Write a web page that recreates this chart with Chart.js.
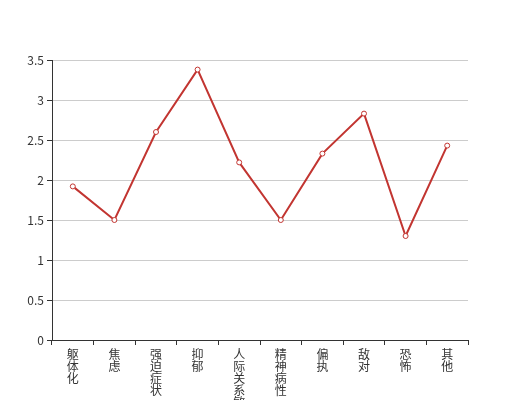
<!DOCTYPE html>
<html>
<head>
<meta charset="utf-8">
<script src="https://cdn.jsdelivr.net/npm/chart.js@4"></script>
<style>
  html, body { margin: 0; padding: 0; background: #fff; overflow: hidden; }
  #wrap { width: 520px; height: 400px; }
</style>
</head>
<body>
<div id="wrap"><canvas id="scoreChart" width="520" height="400"></canvas></div>
<script>
const categories = ['躯体化', '焦虑', '强迫症状', '抑郁', '人际关系敏感', '精神病性', '偏执', '敌对', '恐怖', '其他'];
const scores = [1.92, 1.50, 2.60, 3.38, 2.22, 1.50, 2.33, 2.83, 1.30, 2.43];
const yTicks = [0, 0.5, 1, 1.5, 2, 2.5, 3, 3.5];

const lineColor = '#c23531';
const textColor = '#333';
const fontFamily = '"Noto Sans CJK SC", "Noto Sans", sans-serif';

// vertical labels: one character per line
const verticalLabels = categories.map(c => c.split(''));

const ctx = document.getElementById('scoreChart').getContext('2d');
new Chart(ctx, {
    type: 'line',
    data: {
        labels: verticalLabels,
        datasets: [{
            data: scores,
            borderColor: lineColor,
            borderWidth: 2,
            pointRadius: 2.5,
            pointBorderWidth: 1,
            pointBackgroundColor: '#fff',
            pointBorderColor: lineColor,
            tension: 0,
            fill: false
        }]
    },
    options: {
        responsive: false,
        animation: false,
        layout: {
            padding: { top: 60, right: 52, left: 0, bottom: 0 }
        },
        plugins: {
            legend: { display: false },
            tooltip: { enabled: false }
        },
        scales: {
            x: {
                offset: true,
                grid: {
                    offset: true,
                    drawOnChartArea: false,
                    tickLength: 5,
                    tickColor: textColor
                },
                border: { color: textColor, width: 1 },
                ticks: {
                    color: textColor,
                    maxRotation: 0,
                    autoSkip: false,
                    padding: 3,
                    font: { family: fontFamily, size: 12, lineHeight: 1.0 }
                },
                afterFit: function(scale) { scale.height = 60; }
            },
            y: {
                min: 0,
                max: 3.5,
                afterBuildTicks: function(scale) {
                    scale.ticks = yTicks.map(v => ({ value: v }));
                },
                grid: {
                    color: '#ccc',
                    tickLength: 5,
                    tickColor: textColor
                },
                border: { color: textColor, width: 1 },
                ticks: {
                    color: textColor,
                    padding: 3,
                    font: { family: fontFamily, size: 12 },
                    callback: function(value) { return String(value); }
                },
                afterFit: function(scale) { scale.width = 52; }
            }
        }
    }
});
</script>
</body>
</html>
